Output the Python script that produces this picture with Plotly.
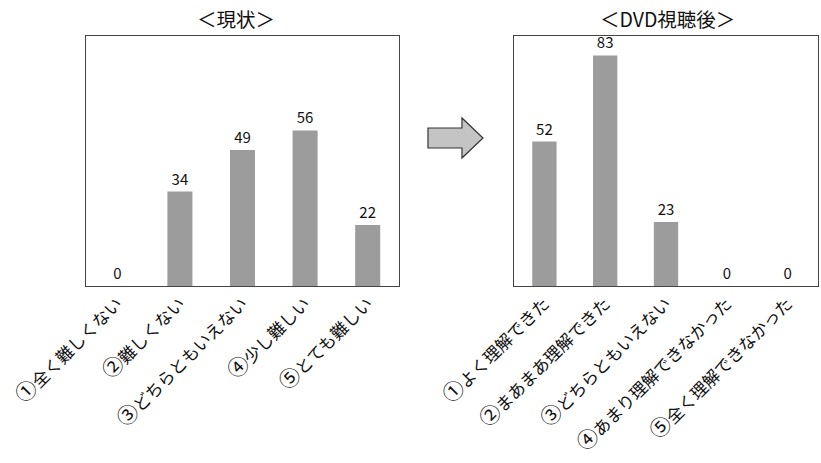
import plotly.graph_objects as go

# Survey responses: difficulty before, comprehension after watching the DVD
before_labels = ["①全く難しくない", "②難しくない", "③どちらともいえない", "④少し難しい", "⑤とても難しい"]
before_values = [0, 34, 49, 56, 22]

after_labels = ["①よく理解できた", "②まあまあ理解できた", "③どちらともいえない", "④あまり理解できなかった", "⑤全く理解できなかった"]
after_values = [52, 83, 23, 0, 0]

titles = ["＜現状＞", "＜DVD視聴後＞"]

W, H = 821, 463
FONT = "Noto Sans CJK JP"
BAR_COLOR = "#9c9c9c"


def styled(label):
    # enlarge the leading circled number so it matches the kana size
    return f"<span style='font-size:21px'>{label[0]}</span>{label[1:]}"


fig = go.Figure()

fig.add_trace(go.Bar(
    x=before_labels, y=before_values, xaxis="x", yaxis="y",
    marker=dict(color=BAR_COLOR, line=dict(width=0)),
    width=0.4, text=before_values, textposition="outside",
    textfont=dict(size=15, color="#111", family=FONT), cliponaxis=False,
))
fig.add_trace(go.Bar(
    x=after_labels, y=after_values, xaxis="x2", yaxis="y2",
    marker=dict(color=BAR_COLOR, line=dict(width=0)),
    width=0.4, text=after_values, textposition="outside",
    textfont=dict(size=15, color="#111", family=FONT), cliponaxis=False,
))

y_dom = [1 - 286 / H, 1 - 36 / H]
axis_common = dict(showline=True, mirror=True, linecolor="#444", linewidth=1,
                   showgrid=False, zeroline=False, ticks="", automargin=False)
xfont = dict(size=17, color="#111", family=FONT)

fig.update_layout(
    width=W, height=H, margin=dict(l=0, r=0, t=0, b=0, autoexpand=False),
    paper_bgcolor="white", plot_bgcolor="white", showlegend=False,
    font=dict(family=FONT),
    xaxis=dict(domain=[86 / W, 399 / W], anchor="y", tickangle=-45,
               tickvals=before_labels, ticktext=[styled(s) for s in before_labels],
               tickfont=xfont, **axis_common),
    yaxis=dict(domain=y_dom, anchor="x", range=[0, 90], showticklabels=False,
               **axis_common),
    xaxis2=dict(domain=[514 / W, 818 / W], anchor="y2", tickangle=-45,
                tickvals=after_labels, ticktext=[styled(s) for s in after_labels],
                tickfont=xfont, **axis_common),
    yaxis2=dict(domain=y_dom, anchor="x2", range=[0, 90], showticklabels=False,
                **axis_common),
)

# Panel titles
for cx, t in zip([236 / W, 667 / W], titles):
    fig.add_annotation(x=cx, y=1 - 18 / H, xref="paper", yref="paper",
                       xanchor="center", yanchor="middle",
                       text=t, showarrow=False,
                       font=dict(size=19.5, color="#111", family=FONT))

# Block arrow between the two panels
def px(x, y):
    return f"{x / W:.4f},{1 - y / H:.4f}"

pts = [(428, 128), (462, 128), (462, 118), (483, 138), (462, 158), (462, 148), (428, 148)]
path = "M " + " L ".join(px(x, y) for x, y in pts) + " Z"
fig.add_shape(type="path", path=path, xref="paper", yref="paper",
              fillcolor="#c4c4c4", line=dict(color="#333", width=1.2))

fig.write_html("out.html")
